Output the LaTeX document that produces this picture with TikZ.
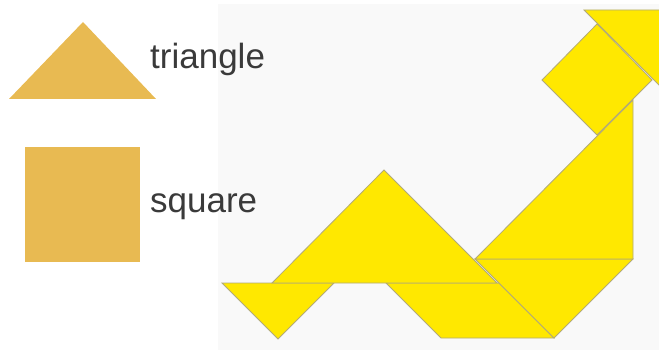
\documentclass[tikz,border=0pt]{standalone}
\usepackage{fontspec}
\setmainfont{Liberation Sans}
\usepackage{xcolor}
\definecolor{goldpiece}{RGB}{232,186,82}
\definecolor{tanyellow}{RGB}{255,232,0}
\definecolor{tanedge}{RGB}{178,170,120}
\definecolor{boardgray}{RGB}{249,249,249}
\definecolor{labeltext}{RGB}{58,58,58}

\begin{document}
\begin{tikzpicture}[
    x=1pt, y=-1pt,
    legend/.style={fill=goldpiece},
    piece/.style={fill=tanyellow, draw=tanedge, line width=0.8pt, line join=miter},
    shapelabel/.style={anchor=base west, inner sep=0pt, text=labeltext,
                 font=\fontsize{35}{40}\selectfont},
]
\useasboundingbox (0,0) rectangle (659,350);

% board
\fill[boardgray] (218,4) rectangle (659,350);

% legend
\fill[legend] (9,99) -- (83,22) -- (156,99) -- cycle;
\fill[legend] (25,147) rectangle (140,262);
\node[shapelabel] (tri) at (150,69)  {triangle};
\node[shapelabel] (sq)  at (150,212) {square};

\begin{scope}
  \clip (218,4) rectangle (659,350);
  % lower row
  \draw[piece] (222,283) -- (334,283) -- (278,339) -- cycle;
  \draw[piece] (386,283) -- (499,283) -- (554,338) -- (441,338) -- cycle;
  \draw[piece] (272,283) -- (384,170) -- (497,283) -- cycle;
  \draw[piece] (475,259) -- (633,259) -- (554,338) -- cycle;
  % right column
  \draw[piece] (475,259) -- (633,100) -- (633,259) -- cycle;
  \draw[piece] (597,24) -- (652,80) -- (597,135) -- (542,80) -- cycle;
  \draw[piece] (584,10) -- (664,10) -- (664,90) -- cycle;
\end{scope}
\end{tikzpicture}
\end{document}
